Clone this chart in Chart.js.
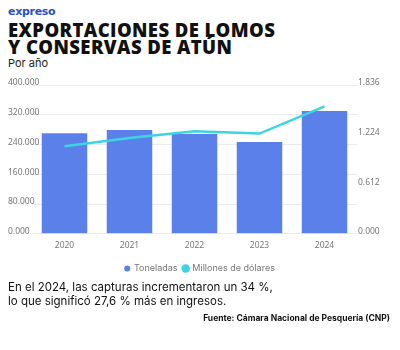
<!DOCTYPE html>
<html>
<head>
<meta charset="utf-8">
<script src="https://cdn.jsdelivr.net/npm/chart.js@4"></script>
<style>
  body { margin: 0; width: 400px; height: 350px; background: #fff; position: relative; overflow: hidden; font-family: Inter, "Noto Sans", sans-serif; }
  .logo { position: absolute; left: 8px; top: 5px; font-family: "DejaVu Sans", sans-serif; font-weight: bold; font-size: 11px; color: #2c50c6; letter-spacing: -0.3px; }
  .title { position: absolute; left: 8px; top: 21px; font-family: "Open Sans", sans-serif; font-weight: 800; font-size: 18.5px; line-height: 17px; color: #111; letter-spacing: 0.4px; }
  .sub { position: absolute; left: 8px; top: 56px; font-size: 11px; color: #222; }
  .chartbox { position: absolute; left: 0; top: 76px; width: 400px; height: 207px; }
  .note { position: absolute; left: 8px; top: 280px; font-size: 11.5px; line-height: 14px; color: #111; }
  .src { position: absolute; right: 10px; top: 313px; font-size: 8.5px; font-weight: bold; color: #111; }
</style>
</head>
<body>
<div class="logo">expreso</div>
<div class="title">EXPORTACIONES DE LOMOS<br>Y CONSERVAS DE ATÚN</div>
<div class="sub">Por año</div>
<div class="chartbox"><canvas id="c"></canvas></div>
<div class="note">En el 2024, las capturas incrementaron un 34 %,<br>lo que significó 27,6 % más en ingresos.</div>
<div class="src">Fuente: Cámara Nacional de Pesquería (CNP)</div>
<script>
// data
const years = ['2020', '2021', '2022', '2023', '2024'];
const toneladas = [270000, 279000, 268000, 247000, 330000];
const millones = [1.079, 1.182, 1.265, 1.237, 1.572];

const gray = '#777';
const tickFont = { family: 'Noto Sans', size: 8.5 };

new Chart(document.getElementById('c'), {
  type: 'bar',
  data: {
    labels: years,
    datasets: [
      {
        label: 'Toneladas',
        data: toneladas,
        backgroundColor: '#5b80e9',
        borderWidth: 0,
        barPercentage: 0.7,
        categoryPercentage: 1,
        yAxisID: 'y',
        order: 2
      },
      {
        type: 'line',
        label: 'Millones de dólares',
        data: millones,
        borderColor: '#3dd4e2',
        backgroundColor: '#3dd4e2',
        borderWidth: 2.5,
        pointRadius: 0,
        tension: 0,
        yAxisID: 'y1',
        order: 1
      }
    ]
  },
  options: {
    responsive: true,
    maintainAspectRatio: false,
    animation: false,
    layout: { padding: { left: 0, right: 0, top: 9, bottom: 0 } },
    plugins: {
      legend: {
        position: 'bottom',
        labels: {
          usePointStyle: true,
          pointStyle: 'circle',
          boxWidth: 4.3,
          boxHeight: 4.3,
          padding: 6,
          color: gray,
          font: { family: 'Inter', size: 9 },
          sort: (a, b) => a.datasetIndex - b.datasetIndex
        }
      },
      tooltip: { enabled: false }
    },
    scales: {
      x: {
        grid: { display: false, drawTicks: false },
        border: { display: false },
        ticks: { color: gray, font: tickFont, padding: 7 }
      },
      y: {
        position: 'left',
        min: 0,
        max: 400000,
        afterFit: s => { s.width = 32; },
        ticks: {
          stepSize: 80000,
          color: gray,
          font: tickFont,
          mirror: true,
          padding: -24,
          labelOffset: -2,
          callback: v => (v / 1000).toFixed(3)
        },
        grid: { color: '#ececec', drawTicks: false },
        border: { display: false }
      },
      y1: {
        position: 'right',
        min: 0,
        max: 1.836,
        afterFit: s => { s.width = 43; },
        ticks: {
          count: 4,
          color: gray,
          font: tickFont,
          padding: 1,
          labelOffset: -2,
          callback: v => v.toFixed(3)
        },
        grid: { drawOnChartArea: false, drawTicks: false },
        border: { display: false }
      }
    }
  }
});
</script>
</body>
</html>
